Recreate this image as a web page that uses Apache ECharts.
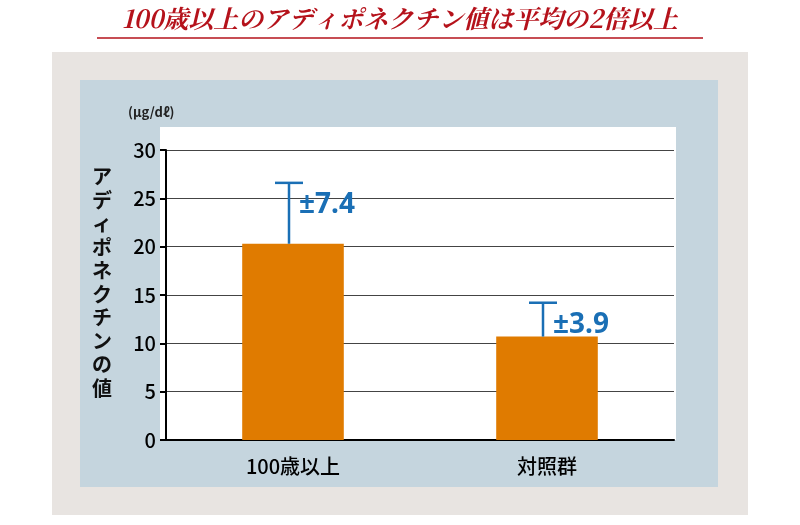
<!DOCTYPE html><html><head><meta charset="utf-8">
<script src="https://cdn.jsdelivr.net/npm/echarts@6/dist/echarts.min.js"></script>
<style>body{margin:0}#c{width:800px;height:525px}</style></head><body><div id="c"></div>
<script>
const categories = ['100歳以上', '対照群'];
const means = [20.3, 10.7];
const errTops = [26.6, 14.2];
const errLabels = ['±7.4', '±3.9'];
const yTicks = [0, 5, 10, 15, 20, 25, 30];
const F = '"Noto Sans CJK JP","Noto Sans",sans-serif';
const chart = echarts.init(document.getElementById('c'));
chart.setOption({
  animation: false,
  graphic: [
    {type:'rect', z:-10, shape:{x:52,y:52,width:696,height:463}, style:{fill:'#e8e4e1'}},
    {type:'rect', z:-9, shape:{x:80,y:80,width:638,height:407}, style:{fill:'#c5d5de'}},
    {type:'rect', z:-8, shape:{x:160,y:127,width:516,height:313}, style:{fill:'#ffffff'}},
    {type:'text', left:'center', top:6, style:{text:'100歳以上のアディポネクチン値は平均の2倍以上', font:'italic bold 25px "Noto Serif CJK JP","DejaVu Serif",serif', fill:'#b5121b'}},
    {type:'line', shape:{x1:97,y1:38,x2:703,y2:38}, style:{stroke:'#b5121b', lineWidth:1.5}},
    {type:'text', left:128, top:106, style:{text:'(μg/dℓ)', font:'bold 13px '+F, fill:'#222'}},
    {type:'text', left:92, top:165, style:{text:'アディポネクチンの値'.split('').join('\n'), font:'bold 20px '+F, fill:'#111', lineHeight:23.5}}
  ],
  grid:{left:166, right:126, top:150, bottom:85},
  xAxis:{type:'category', data:categories, axisLine:{lineStyle:{color:'#000',width:2}}, axisTick:{show:false},
    axisLabel:{fontSize:20, fontWeight:500, color:'#000', margin:16, fontFamily:F}},
  yAxis:{type:'value', min:0, max:30, interval:5, axisLine:{show:true, lineStyle:{color:'#000',width:2}},
    axisTick:{show:true, length:6, inside:false, lineStyle:{color:'#000',width:2}},
    splitLine:{lineStyle:{color:'#444',width:1}},
    axisLabel:{fontSize:20, fontWeight:500, color:'#000', margin:10, fontFamily:F, formatter:v=>yTicks.includes(v)?String(v):''}},
  series:[
    {type:'bar', data:means, barWidth:'40%', itemStyle:{color:'#e07b00'}},
    {type:'custom', data:categories.map((c,i)=>[i, means[i], errTops[i]]), z:5,
      renderItem:(p,api)=>{
        const b=api.coord([api.value(0),api.value(1)]);
        const t=api.coord([api.value(0),api.value(2)]);
        const x=b[0]-4, i=p.dataIndex;
        return {type:'group', children:[
          {type:'line', shape:{x1:x,y1:b[1],x2:x,y2:t[1]}, style:{stroke:'#1a6fb5',lineWidth:2.5}},
          {type:'line', shape:{x1:x-14,y1:t[1],x2:x+14,y2:t[1]}, style:{stroke:'#1a6fb5',lineWidth:2.5}},
          {type:'text', x:x+10, y:t[1]+22, style:{text:errLabels[i], font:'bold 28px "Noto Sans","Open Sans",sans-serif', fill:'#1a6fb5', textVerticalAlign:'middle'}}
        ]};
      }}
  ]
});
</script></body></html>
